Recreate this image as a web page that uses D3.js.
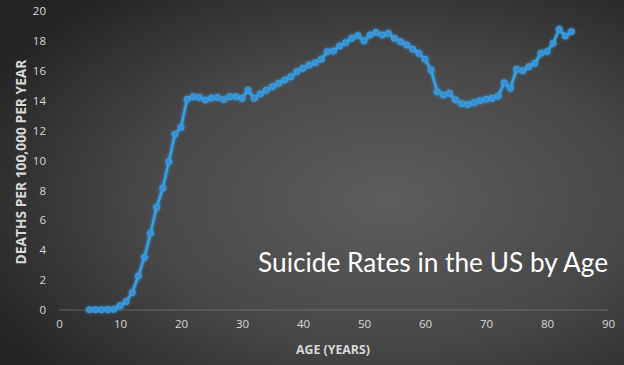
<!DOCTYPE html>
<html>
<head>
<meta charset="utf-8">
<script src="https://cdn.jsdelivr.net/npm/d3@7"></script>
<style>
  html, body { margin: 0; padding: 0; background: #333; }
  svg { display: block; }
</style>
</head>
<body>
<svg id="chart" width="624" height="365"></svg>
<script>
// ---- data ----
const ages = [5,6,7,8,9,10,11,12,13,14,15,16,17,18,19,20,21,22,23,24,25,26,27,28,29,30,
  31,32,33,34,35,36,37,38,39,40,41,42,43,44,45,46,47,48,49,50,51,52,53,54,55,56,57,58,59,60,
  61,62,63,64,65,66,67,68,69,70,71,72,73,74,75,76,77,78,79,80,81,82,83,84];
const rates = [0.02,0.02,0.02,0.03,0.05,0.29,0.56,1.16,2.27,3.52,5.13,6.87,8.14,9.92,11.75,12.22,14.09,14.27,14.22,14.05,14.18,14.22,14.08,14.27,14.27,14.16,
  14.7,14.16,14.45,14.7,14.94,15.16,15.38,15.6,15.94,16.17,16.39,16.54,16.77,17.28,17.32,17.66,17.88,18.17,18.35,18.0,18.4,18.57,18.4,18.5,18.17,17.95,17.73,17.44,17.17,16.77,
  16.05,14.6,14.38,14.5,14.05,13.8,13.75,13.87,14.0,14.09,14.16,14.3,15.2,14.83,16.1,16.0,16.27,16.5,17.17,17.28,17.84,18.78,18.33,18.62];
const xTicks = [0,10,20,30,40,50,60,70,80,90];
const yTicks = [0,2,4,6,8,10,12,14,16,18,20];
const chartTitle = "Suicide Rates in the US by Age";
const xTitle = "AGE (YEARS)";
const yTitle = "DEATHS PER 100,000 PER YEAR";

const svg = d3.select("#chart");
const W = 624, H = 365;
const FONT = "'Open Sans', 'Liberation Sans', sans-serif";

// background gradient
const defs = svg.append("defs");
const rg = defs.append("radialGradient").attr("id", "bg")
  .attr("cx", "62%").attr("cy", "55%").attr("r", "72%");
rg.append("stop").attr("offset", "0%").attr("stop-color", "#5d5d5d");
rg.append("stop").attr("offset", "55%").attr("stop-color", "#474747");
rg.append("stop").attr("offset", "100%").attr("stop-color", "#242424");
const glow = defs.append("filter").attr("id", "glow").attr("x", "-5%").attr("y", "-5%").attr("width", "110%").attr("height", "110%");
glow.append("feGaussianBlur").attr("stdDeviation", 1.6).attr("result", "b");
const m = glow.append("feMerge");
m.append("feMergeNode").attr("in", "b");
m.append("feMergeNode").attr("in", "SourceGraphic");

svg.append("rect").attr("width", W).attr("height", H).attr("fill", "url(#bg)");

const x = d3.scaleLinear().domain([0, 90]).range([59, 608]);
const y = d3.scaleLinear().domain([0, 20]).range([310, 11]);

// baseline
svg.append("line")
  .attr("x1", x(0)).attr("x2", x(90)).attr("y1", y(0)).attr("y2", y(0))
  .attr("stroke", "#777").attr("stroke-width", 0.8);

// axes (labels only)
const xAxis = svg.append("g").attr("transform", `translate(0,${y(0)})`)
  .call(d3.axisBottom(x).tickValues(xTicks).tickSize(0).tickPadding(10));
const yAxis = svg.append("g").attr("transform", `translate(${x(0) - 9},0)`)
  .call(d3.axisLeft(y).tickValues(yTicks).tickSize(0).tickPadding(4));
[xAxis, yAxis].forEach(g => {
  g.select(".domain").remove();
  g.selectAll("text").attr("fill", "#d9d9d9").attr("font-size", "11.5px").attr("font-family", FONT);
});

function fitWidth(sel, base, target) {
  const w = sel.node().getComputedTextLength();
  sel.attr("font-size", (base * target / w).toFixed(2) + "px");
}

// axis titles
const xt = svg.append("text").attr("x", 333).attr("y", 354).attr("text-anchor", "middle")
  .attr("fill", "#d9d9d9").attr("font-family", FONT).attr("font-weight", "bold")
  .attr("font-size", "12px").text(xTitle);
fitWidth(xt, 12, 74);
const yt = svg.append("text").attr("transform", "translate(26,162) rotate(-90)").attr("text-anchor", "middle")
  .attr("fill", "#d9d9d9").attr("font-family", FONT).attr("font-weight", "bold")
  .attr("font-size", "12px").text(yTitle);
fitWidth(yt, 12, 205);

// series
const pts = ages.map((a, i) => [a, rates[i]]);
const line = d3.line().x(d => x(d[0])).y(d => y(d[1]));
const g = svg.append("g").attr("filter", "url(#glow)");
g.append("path").datum(pts).attr("d", line)
  .attr("fill", "none").attr("stroke", "#33a3e6").attr("stroke-width", 2.4)
  .attr("stroke-linejoin", "round");
g.selectAll("circle").data(pts).enter().append("circle")
  .attr("cx", d => x(d[0])).attr("cy", d => y(d[1])).attr("r", 3)
  .attr("fill", "#3b8ed2").attr("stroke", "#36a2e4").attr("stroke-width", 1);

// title
const t = svg.append("text").attr("x", 608).attr("y", 272).attr("text-anchor", "end")
  .attr("fill", "#ffffff").attr("font-family", "Lato, 'Open Sans', sans-serif")
  .attr("font-size", "25px").text(chartTitle);
fitWidth(t, 25, 350);
</script>
</body>
</html>
